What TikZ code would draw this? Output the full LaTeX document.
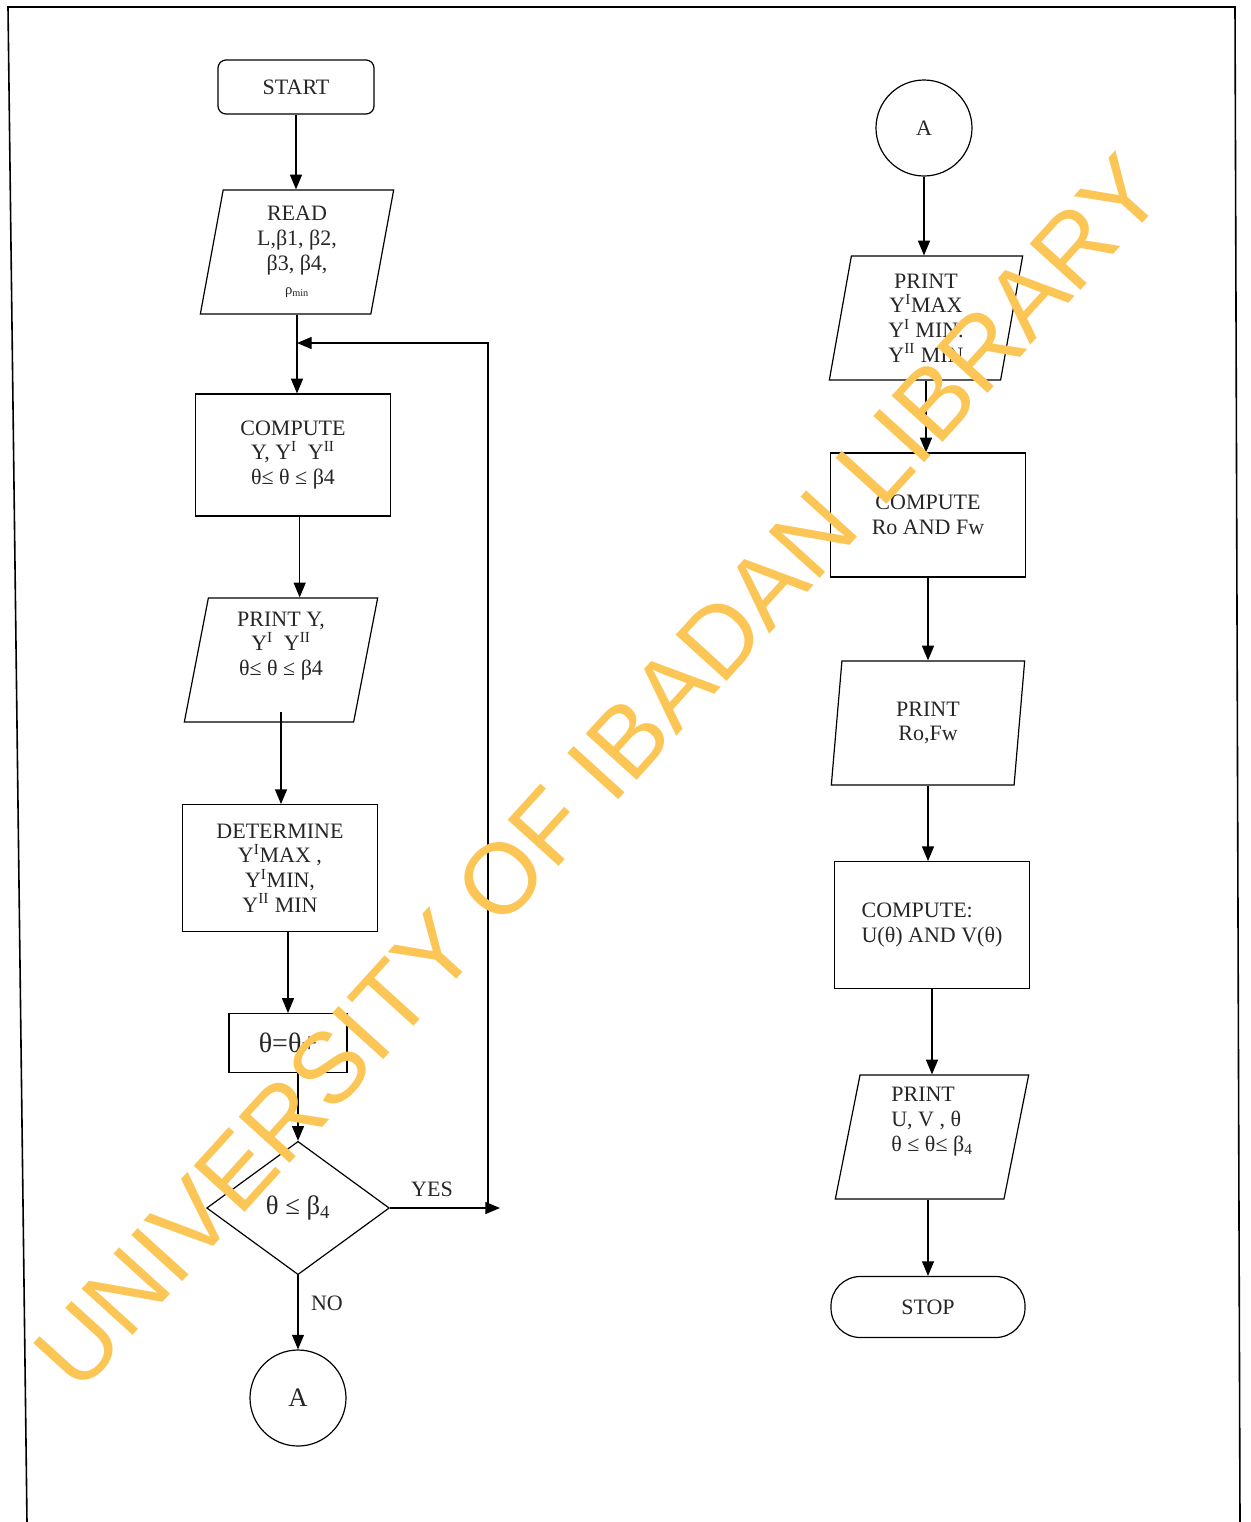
\documentclass[tikz,border=0pt]{standalone}
\usepackage{fontspec}
\setmainfont{Liberation Serif}
\newfontfamily\wmfont{Liberation Sans}
\usetikzlibrary{arrows.meta,shapes.geometric}

\tikzset{
  flow/.style={line width=0.9pt, -{Triangle[length=11pt,width=9pt]}},
  txt/.style={font=\fontsize{16.5}{18.5}\selectfont, text=black!85, align=center},
  procbox/.style={txt, draw, line width=0.9pt, minimum width=146pt, minimum height=94pt, inner sep=0pt},
  iobox/.style={txt, draw, line width=0.9pt, trapezium, trapezium left angle=76, trapezium right angle=104,
    trapezium stretches body=true, minimum width=145pt, minimum height=93pt, inner sep=0pt},
  termbox/.style={txt, draw, line width=0.9pt, rounded corners=6pt, inner sep=0pt},
  connector/.style={txt, draw, line width=0.9pt, circle, minimum size=72pt, inner sep=0pt},
}

\begin{document}
\begin{tikzpicture}[x=0.75pt,y=0.75pt,yscale=-1,xscale=1]
\useasboundingbox (0,0) rectangle (1251,1522);

% Frame
\draw [line width=1.2pt] (27,1522) -- (8,7) -- (1235,7) -- (1240,1522) ;

%% left column
% Text Node
\node [termbox, minimum width=117pt, minimum height=40.5pt] (start) at (296,87) {START};
% Text Node
\node [iobox] (read) at (297,252) {READ\\ L,β1, β2,\\ β3, β4,\\ {\fontsize{11}{12}\selectfont ρ\textsubscript{min}}};
% Text Node
\node [procbox, minimum height=91.5pt] (comp1) at (293,455) {COMPUTE\\ Y, Y\textsuperscript{I}\ \ Y\textsuperscript{II}\\ θ≤ θ ≤ β4};
% Text Node
\node [iobox] (print1) at (281,660) {PRINT Y,\\ Y\textsuperscript{I}\ \ Y\textsuperscript{II}\\ θ≤ θ ≤ β4\\[6pt]};
% Text Node
\node [procbox, minimum height=95pt] (determ) at (280,868) {DETERMINE\\ Y\textsuperscript{I}MAX ,\\ Y\textsuperscript{I}MIN,\\ Y\textsuperscript{II} MIN};
% Text Node
\node [procbox, font=\fontsize{21}{24}\selectfont, minimum width=88.5pt, minimum height=44.25pt] (incr) at (288,1043) {θ=θ+};
% Text Node
\node [txt, font=\fontsize{20}{22}\selectfont, draw, line width=0.9pt, diamond, minimum width=137pt, minimum height=100pt, inner sep=0pt] (dec) at (298,1208) {θ ≤ β\textsubscript{4}};
% Text Node
\node [connector, font=\fontsize{20}{24}\selectfont] (outA) at (298,1398) {A};

\node [txt] (yes) at (432,1189) {YES};
\node [txt] (no) at (327,1303) {NO};

\coordinate (loopbot) at (488,1208);
\coordinate (looptop) at (488,343);
\coordinate (join) at (297,343);

% Connection
\draw [flow] (start.south) -- (start.south |- read.north) ;
\draw [flow] (read.south) -- (read.south |- comp1.north) ;
\draw [flow] ([xshift=5pt]comp1.south) -- ([xshift=5pt]comp1.south |- print1.north) ;
\draw [flow] ([yshift=-8pt]print1.south) -- (print1.south |- determ.north) ;
\draw [flow] (determ.south -| incr.north) -- (incr.north) ;
\draw [flow] (incr.south -| dec.north) -- (dec.north) ;
\draw [flow] (dec.south) -- (dec.south |- outA.north) ;
\draw [flow] (dec.east) -- ([xshift=9pt]dec.east -| loopbot) ;
\draw [flow] (loopbot) -- (looptop) -- (join) ;

%% right column
% Text Node
\node [connector] (inA) at (924,128) {A};
% Text Node
\node [iobox] (print2) at (926,318) {PRINT\\ Y\textsuperscript{I}MAX\\ Y\textsuperscript{I} MIN.\\ Y\textsuperscript{II} MIN};
% Text Node
\node [procbox, minimum height=93pt] (comp2) at (928,515) {COMPUTE\\ Ro AND Fw};
% Text Node
\node [iobox] (print3) at (928,723) {PRINT\\ Ro,Fw};
% Text Node
\node [procbox, align=left, minimum height=95pt] (comp3) at (932,925) {COMPUTE:\\ U(θ) AND V(θ)};
% Text Node
\node [iobox, align=left] (print4) at (932,1137) {PRINT\\ U, V , θ\\ θ ≤ θ≤ β\textsubscript{4}\\[8pt]};
% Text Node
\node [termbox, rounded corners=22pt, minimum width=145.5pt, minimum height=45.75pt] (stop) at (928,1307) {STOP};

% Connection
\draw [flow] (inA.south) -- (inA.south |- print2.north) ;
\draw [flow] (print2.south) -- (print2.south |- comp2.north) ;
\draw [flow] (comp2.south) -- (comp2.south |- print3.north) ;
\draw [flow] (print3.south) -- (print3.south |- comp3.north) ;
\draw [flow] (comp3.south) -- (comp3.south |- print4.north) ;
\draw [flow] ([xshift=-3pt]print4.south) -- ([xshift=-3pt]print4.south |- stop.north) ;

% Watermark
\node [font=\wmfont\fontsize{75}{78}\selectfont, text={rgb,255:red,252;green,198;blue,86}, rotate=47.8] (wmark) at (598,772) {UNIVERSITY OF IBADAN LIBRARY};

\end{tikzpicture}
\end{document}
